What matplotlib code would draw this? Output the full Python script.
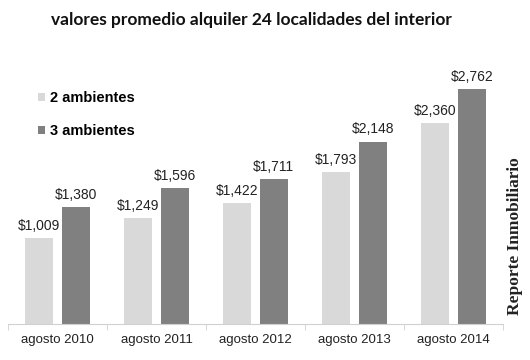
import matplotlib
matplotlib.use("Agg")
import matplotlib.pyplot as plt
import numpy as np

categories = ["agosto 2010", "agosto 2011", "agosto 2012", "agosto 2013", "agosto 2014"]
amb2 = [1009, 1249, 1422, 1793, 2360]
amb3 = [1380, 1596, 1711, 2148, 2762]
series_names = ["2 ambientes", "3 ambientes"]

c2 = "#d9d9d9"
c3 = "#808080"

fig = plt.figure(figsize=(5.3, 3.6), dpi=100)
ax = fig.add_axes([0.015, 0.1, 0.934, 0.708])
x = np.arange(len(categories))
w = 0.28
off = 0.185
b2 = ax.bar(x - off, amb2, w, color=c2, label=series_names[0])
b3 = ax.bar(x + off, amb3, w, color=c3, label=series_names[1])
for bars, vals in ((b2, amb2), (b3, amb3)):
    for r, v in zip(bars, vals):
        ax.text(r.get_x() + r.get_width() / 2, v + 60, f"${v:,}", ha="center", va="bottom",
                fontsize=10, color="#222222", family="Liberation Sans")

ax.set_xlim(-0.5, len(categories) - 0.5)
ax.set_ylim(0, 3000)
ax.set_yticks([])
ax.set_xticks(x)
ax.set_xticklabels(categories, fontsize=9.5, family="Liberation Sans", color="#222222")
ax.set_xticks(np.arange(len(categories) + 1) - 0.5, minor=True)
ax.tick_params(axis="x", which="major", length=0, pad=7)
ax.tick_params(axis="x", which="minor", length=4, color="#d0d0d0")
for s in ("top", "right", "left"):
    ax.spines[s].set_visible(False)
ax.spines["bottom"].set_color("#d0d0d0")

leg = ax.legend(loc="upper left", bbox_to_anchor=(0.035, 0.965), frameon=False, handlelength=0.45,
                handleheight=0.45, handletextpad=0.35, labelspacing=1.3,
                prop={"family": "Liberation Sans", "weight": "bold", "size": 10.5})

fig.text(0.475, 0.945, "valores promedio alquiler 24 localidades del interior", ha="center", va="center",
         fontsize=12.5, weight="bold", family="Lato", color="#111111")
fig.text(0.972, 0.345, "Reporte Inmobiliario", rotation=90, ha="center", va="center",
         fontsize=12.5, weight="bold", family="Liberation Serif", color="#222222")

fig.savefig("out.png", dpi=100)
